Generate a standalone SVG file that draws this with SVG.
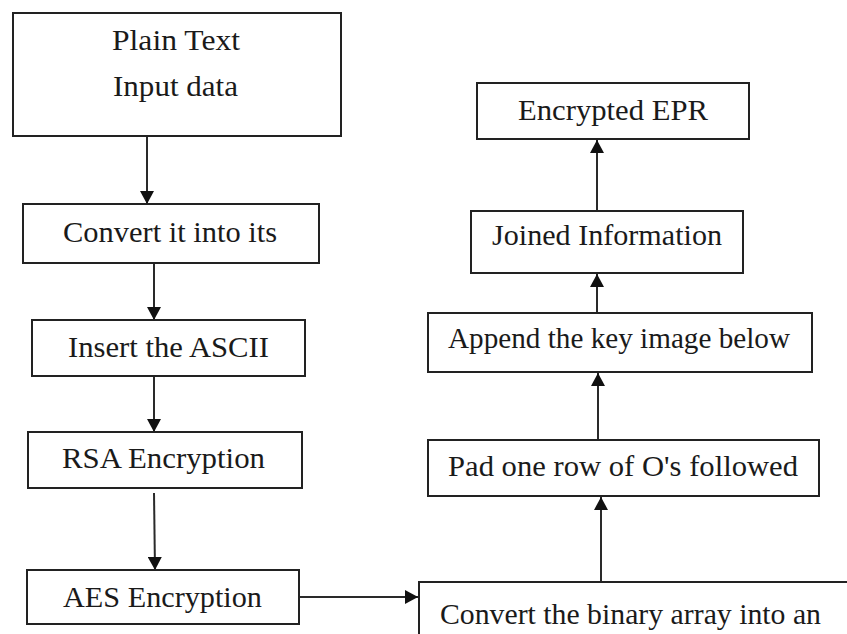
<svg xmlns="http://www.w3.org/2000/svg" width="847" height="634" viewBox="0 0 847 634">
  <style>
    .box { fill: #ffffff; stroke: #222222; stroke-width: 2; }
    .label { font-family: "Liberation Serif", "Times New Roman", serif; font-size: 29px; fill: #1a1a1a; }
    .link { stroke: #2a2a2a; stroke-width: 2; fill: none; marker-end: url(#arrow); }
  </style>
  <defs>
    <marker id="arrow" markerUnits="userSpaceOnUse" markerWidth="14" markerHeight="14" viewBox="0 0 14 14" refX="13" refY="7" orient="auto">
      <path d="M0,0 L13,7 L0,14 Z" fill="#111111"/>
    </marker>
  </defs>
  <rect width="847" height="634" fill="#ffffff"/>

  <!-- flow connectors -->
  <g id="connectors">
    <line class="link" x1="147" y1="137" x2="147" y2="204"/>
    <line class="link" x1="154" y1="264" x2="154" y2="320"/>
    <line class="link" x1="154" y1="377" x2="154" y2="432"/>
    <line class="link" x1="154" y1="493" x2="155" y2="570"/>
    <line class="link" x1="299" y1="597" x2="418" y2="597"/>
    <line class="link" x1="601" y1="582" x2="601" y2="497"/>
    <line class="link" x1="598" y1="440" x2="598" y2="373"/>
    <line class="link" x1="597" y1="313" x2="597" y2="274"/>
    <line class="link" x1="597" y1="211" x2="597" y2="140"/>
  </g>

  <g id="plain-text">
    <rect class="box" x="13" y="13" width="328" height="123"/>
    <text class="label" x="112" y="50" textLength="128" lengthAdjust="spacingAndGlyphs">Plain Text</text>
    <text class="label" x="113" y="96" textLength="125" lengthAdjust="spacingAndGlyphs">Input data</text>
  </g>

  <g id="convert-ascii">
    <rect class="box" x="23" y="204" width="296" height="59"/>
    <text class="label" x="63" y="242" textLength="214" lengthAdjust="spacingAndGlyphs">Convert it into its</text>
  </g>

  <g id="insert-ascii">
    <rect class="box" x="32" y="320" width="273" height="56"/>
    <text class="label" x="68" y="357" textLength="201" lengthAdjust="spacingAndGlyphs">Insert the ASCII</text>
  </g>

  <g id="rsa">
    <rect class="box" x="28" y="432" width="274" height="56"/>
    <text class="label" x="62" y="468" textLength="203" lengthAdjust="spacingAndGlyphs">RSA Encryption</text>
  </g>

  <g id="aes">
    <rect class="box" x="27" y="570" width="272" height="54"/>
    <text class="label" x="63" y="607" textLength="199" lengthAdjust="spacingAndGlyphs">AES Encryption</text>
  </g>

  <g id="binary-array">
    <rect class="box" x="419" y="582" width="450" height="80"/>
    <text class="label" x="440" y="624" textLength="381" lengthAdjust="spacingAndGlyphs">Convert the binary array into an</text>
  </g>

  <g id="pad-row">
    <rect class="box" x="428" y="440" width="391" height="56"/>
    <text class="label" x="448" y="476" textLength="350" lengthAdjust="spacingAndGlyphs">Pad one row of O's followed</text>
  </g>

  <g id="append-key">
    <rect class="box" x="428" y="313" width="384" height="59"/>
    <text class="label" x="448" y="348" textLength="342" lengthAdjust="spacingAndGlyphs">Append the key image below</text>
  </g>

  <g id="joined-info">
    <rect class="box" x="471" y="211" width="272" height="62"/>
    <text class="label" x="492" y="245" textLength="230" lengthAdjust="spacingAndGlyphs">Joined Information</text>
  </g>

  <g id="encrypted-epr">
    <rect class="box" x="477" y="83" width="272" height="56"/>
    <text class="label" x="518" y="120" textLength="190" lengthAdjust="spacingAndGlyphs">Encrypted EPR</text>
  </g>
</svg>
